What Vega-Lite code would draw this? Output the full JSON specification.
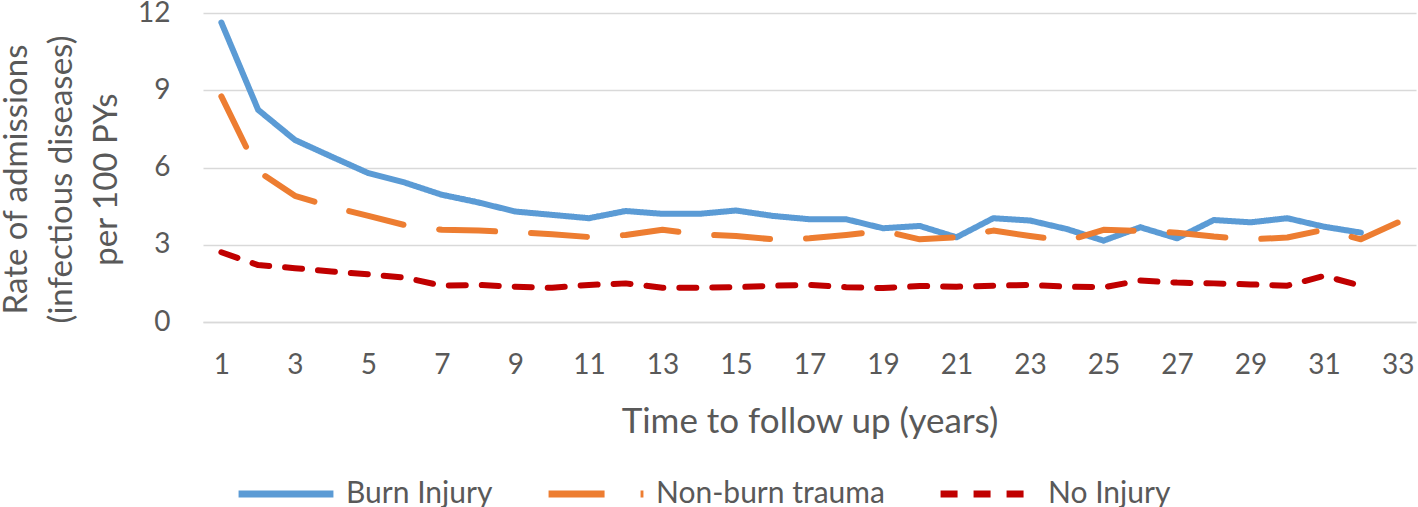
{
  "$schema": "https://vega.github.io/schema/vega-lite/v6.json",
  "autosize": "none",
  "padding": {"left": 203, "top": 13, "right": 2, "bottom": 185},
  "width": 1213,
  "height": 309,
  "background": "white",
  "config": {
    "font": "Lato",
    "view": {"stroke": null},
    "axis": {"labelColor": "#595959", "titleColor": "#595959", "labelFont": "Lato", "titleFont": "Lato", "titleFontWeight": "normal"},
    "legend": {"labelFont": "Lato", "labelColor": "#595959"}
  },
  "data": {
    "values": [
      {"year": 1, "group": "Burn Injury", "rate": 11.63},
      {"year": 2, "group": "Burn Injury", "rate": 8.24},
      {"year": 3, "group": "Burn Injury", "rate": 7.07},
      {"year": 4, "group": "Burn Injury", "rate": 6.42},
      {"year": 5, "group": "Burn Injury", "rate": 5.78},
      {"year": 6, "group": "Burn Injury", "rate": 5.41},
      {"year": 7, "group": "Burn Injury", "rate": 4.94},
      {"year": 8, "group": "Burn Injury", "rate": 4.64},
      {"year": 9, "group": "Burn Injury", "rate": 4.29},
      {"year": 10, "group": "Burn Injury", "rate": 4.16},
      {"year": 11, "group": "Burn Injury", "rate": 4.03},
      {"year": 12, "group": "Burn Injury", "rate": 4.31},
      {"year": 13, "group": "Burn Injury", "rate": 4.2},
      {"year": 14, "group": "Burn Injury", "rate": 4.2},
      {"year": 15, "group": "Burn Injury", "rate": 4.33},
      {"year": 16, "group": "Burn Injury", "rate": 4.12},
      {"year": 17, "group": "Burn Injury", "rate": 3.99},
      {"year": 18, "group": "Burn Injury", "rate": 3.99},
      {"year": 19, "group": "Burn Injury", "rate": 3.64},
      {"year": 20, "group": "Burn Injury", "rate": 3.73},
      {"year": 21, "group": "Burn Injury", "rate": 3.29},
      {"year": 22, "group": "Burn Injury", "rate": 4.03},
      {"year": 23, "group": "Burn Injury", "rate": 3.94},
      {"year": 24, "group": "Burn Injury", "rate": 3.61},
      {"year": 25, "group": "Burn Injury", "rate": 3.16},
      {"year": 26, "group": "Burn Injury", "rate": 3.68},
      {"year": 27, "group": "Burn Injury", "rate": 3.25},
      {"year": 28, "group": "Burn Injury", "rate": 3.96},
      {"year": 29, "group": "Burn Injury", "rate": 3.87},
      {"year": 30, "group": "Burn Injury", "rate": 4.03},
      {"year": 31, "group": "Burn Injury", "rate": 3.7},
      {"year": 32, "group": "Burn Injury", "rate": 3.47},
      {"year": 1, "group": "Non-burn trauma", "rate": 8.76},
      {"year": 2, "group": "Non-burn trauma", "rate": 5.85},
      {"year": 3, "group": "Non-burn trauma", "rate": 4.9},
      {"year": 4, "group": "Non-burn trauma", "rate": 4.48},
      {"year": 5, "group": "Non-burn trauma", "rate": 4.12},
      {"year": 6, "group": "Non-burn trauma", "rate": 3.76},
      {"year": 7, "group": "Non-burn trauma", "rate": 3.58},
      {"year": 8, "group": "Non-burn trauma", "rate": 3.55},
      {"year": 9, "group": "Non-burn trauma", "rate": 3.49},
      {"year": 10, "group": "Non-burn trauma", "rate": 3.41},
      {"year": 11, "group": "Non-burn trauma", "rate": 3.3},
      {"year": 12, "group": "Non-burn trauma", "rate": 3.38},
      {"year": 13, "group": "Non-burn trauma", "rate": 3.58},
      {"year": 14, "group": "Non-burn trauma", "rate": 3.4},
      {"year": 15, "group": "Non-burn trauma", "rate": 3.34},
      {"year": 16, "group": "Non-burn trauma", "rate": 3.21},
      {"year": 17, "group": "Non-burn trauma", "rate": 3.25},
      {"year": 18, "group": "Non-burn trauma", "rate": 3.38},
      {"year": 19, "group": "Non-burn trauma", "rate": 3.54},
      {"year": 20, "group": "Non-burn trauma", "rate": 3.21},
      {"year": 21, "group": "Non-burn trauma", "rate": 3.29},
      {"year": 22, "group": "Non-burn trauma", "rate": 3.55},
      {"year": 23, "group": "Non-burn trauma", "rate": 3.34},
      {"year": 24, "group": "Non-burn trauma", "rate": 3.15},
      {"year": 25, "group": "Non-burn trauma", "rate": 3.58},
      {"year": 26, "group": "Non-burn trauma", "rate": 3.54},
      {"year": 27, "group": "Non-burn trauma", "rate": 3.47},
      {"year": 28, "group": "Non-burn trauma", "rate": 3.32},
      {"year": 29, "group": "Non-burn trauma", "rate": 3.21},
      {"year": 30, "group": "Non-burn trauma", "rate": 3.28},
      {"year": 31, "group": "Non-burn trauma", "rate": 3.58},
      {"year": 32, "group": "Non-burn trauma", "rate": 3.21},
      {"year": 33, "group": "Non-burn trauma", "rate": 3.86},
      {"year": 1, "group": "No Injury", "rate": 2.71},
      {"year": 2, "group": "No Injury", "rate": 2.21},
      {"year": 3, "group": "No Injury", "rate": 2.09},
      {"year": 4, "group": "No Injury", "rate": 1.96},
      {"year": 5, "group": "No Injury", "rate": 1.85},
      {"year": 6, "group": "No Injury", "rate": 1.72},
      {"year": 7, "group": "No Injury", "rate": 1.41},
      {"year": 8, "group": "No Injury", "rate": 1.44},
      {"year": 9, "group": "No Injury", "rate": 1.37},
      {"year": 10, "group": "No Injury", "rate": 1.33},
      {"year": 11, "group": "No Injury", "rate": 1.44},
      {"year": 12, "group": "No Injury", "rate": 1.5},
      {"year": 13, "group": "No Injury", "rate": 1.33},
      {"year": 14, "group": "No Injury", "rate": 1.33},
      {"year": 15, "group": "No Injury", "rate": 1.35},
      {"year": 16, "group": "No Injury", "rate": 1.41},
      {"year": 17, "group": "No Injury", "rate": 1.44},
      {"year": 18, "group": "No Injury", "rate": 1.35},
      {"year": 19, "group": "No Injury", "rate": 1.32},
      {"year": 20, "group": "No Injury", "rate": 1.4},
      {"year": 21, "group": "No Injury", "rate": 1.37},
      {"year": 22, "group": "No Injury", "rate": 1.41},
      {"year": 23, "group": "No Injury", "rate": 1.44},
      {"year": 24, "group": "No Injury", "rate": 1.37},
      {"year": 25, "group": "No Injury", "rate": 1.35},
      {"year": 26, "group": "No Injury", "rate": 1.61},
      {"year": 27, "group": "No Injury", "rate": 1.53},
      {"year": 28, "group": "No Injury", "rate": 1.5},
      {"year": 29, "group": "No Injury", "rate": 1.46},
      {"year": 30, "group": "No Injury", "rate": 1.41},
      {"year": 31, "group": "No Injury", "rate": 1.79},
      {"year": 32, "group": "No Injury", "rate": 1.41}
    ]
  },
  "mark": {"type": "line", "strokeWidth": 6, "strokeCap": "round", "strokeJoin": "round"},
  "encoding": {
    "x": {
      "field": "year",
      "type": "ordinal",
      "sort": "ascending",
      "scale": {"type": "point", "padding": 0.5},
      "axis": {
        "title": "Time to follow up (years)",
        "titleFontSize": 35,
        "titlePadding": 25,
        "labelAngle": 0,
        "labelFontSize": 28,
        "labelPadding": 29,
        "labelExpr": "datum.value % 2 == 1 ? datum.label : ''",
        "ticks": false,
        "domainColor": "#D9D9D9",
        "domainWidth": 1.5,
        "grid": false
      }
    },
    "y": {
      "field": "rate",
      "type": "quantitative",
      "scale": {"domain": [0, 12], "nice": false},
      "axis": {
        "title": ["Rate of admissions", "(infectious diseases)", "per 100 PYs"],
        "titleFontSize": 33,
        "titleLineHeight": 45,
        "titlePadding": 14,
        "titleY": 166,
        "labelFontSize": 28,
        "labelPadding": 33,
        "values": [0, 3, 6, 9, 12],
        "ticks": false,
        "domain": false,
        "gridColor": "#D9D9D9",
        "gridWidth": 1.5
      }
    },
    "color": {
      "field": "group",
      "type": "nominal",
      "scale": {"domain": ["Burn Injury", "Non-burn trauma", "No Injury"], "range": ["#5B9BD5", "#ED7D31", "#C00000"]},
      "legend": {
        "title": null,
        "orient": "none",
        "direction": "horizontal",
        "legendX": 32,
        "legendY": 430,
        "symbolType": "stroke",
        "symbolSize": 9000,
        "symbolStrokeWidth": 7,
        "labelFontSize": 30,
        "labelLimit": 500,
        "labelOffset": 9,
        "columnPadding": 41
      }
    },
    "strokeDash": {
      "field": "group",
      "type": "nominal",
      "scale": {"domain": ["Burn Injury", "Non-burn trauma", "No Injury"], "range": [[1, 0], [56, 36], [17, 16]]},
      "legend": null
    }
  }
}
